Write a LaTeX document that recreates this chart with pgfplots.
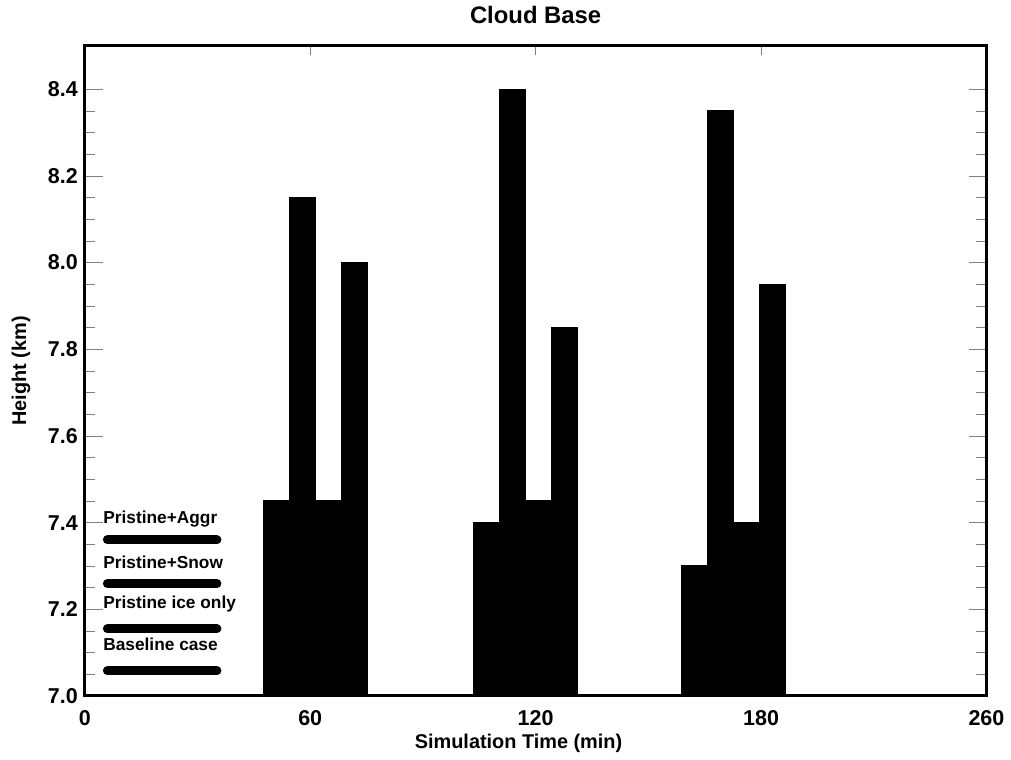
\documentclass[border=0pt]{standalone}
\usepackage{pgfplots}
\pgfplotsset{compat=1.18}
\usepackage{fontspec}
\setmainfont{Liberation Sans}

% Cloud base height per case (km); x = bar centre
\pgfplotstableread{
x     y
55.25 7.45
115.75 7.40
175.75 7.30
}\baseline
\pgfplotstableread{
x     y
62.75 8.15
123.25 8.40
183.25 8.35
}\iceonly
\pgfplotstableread{
x     y
70.25 7.45
130.75 7.45
190.75 7.40
}\snow
\pgfplotstableread{
x     y
77.75 8.00
138.25 7.85
198.25 7.95
}\aggr

\begin{document}
\begin{tikzpicture}
\begin{axis}[
  scale only axis,
  width=451.75bp, height=325.75bp,
  xmin=0, xmax=260, ymin=7, ymax=8.5,
  line width=1.5bp,
  tick align=inside,
  xtick={0,65,130,195,260},
  xticklabels={0,60,120,180,260},
  xtick style={/pgfplots/major tick length=4.5bp},
  ytick={7.0,7.2,7.4,7.6,7.8,8.0,8.2,8.4},
  yticklabels={7.0,7.2,7.4,7.6,7.8,8.0,8.2,8.4},
  minor y tick num=3,
  major tick length=9bp,
  minor tick length=5bp,
  /pgf/number format/assume math mode=true,
  ticklabel style={font=\bfseries\fontsize{10.8}{12}\selectfont},
  xticklabel style={yshift=-3bp},
  yticklabel style={xshift=0.5bp},
  title={Cloud Base},
  title style={font=\bfseries\fontsize{12}{14}\selectfont, at={(0.5,1)}, anchor=base, yshift=5bp},
  xlabel={Simulation Time (min)},
  xlabel style={font=\bfseries\fontsize{10}{11}\selectfont, at={(0.481,0)}, anchor=base, yshift=-26.5bp},
  ylabel={Height (km)},
  ylabel style={font=\bfseries\fontsize{10}{11}\selectfont, at={(axis description cs:-0.0708,0.5)}, anchor=center},
  clip=true,
]
\addplot[ybar, bar width=7.5, bar shift=0pt, fill=black, draw=black, line width=0.5bp] table[x=x,y=y] {\baseline};
\addplot[ybar, bar width=7.5, bar shift=0pt, fill=black, draw=black, line width=0.5bp] table[x=x,y=y] {\iceonly};
\addplot[ybar, bar width=7.5, bar shift=0pt, fill=black, draw=black, line width=0.5bp] table[x=x,y=y] {\snow};
\addplot[ybar, bar width=7.5, bar shift=0pt, fill=black, draw=black, line width=0.5bp] table[x=x,y=y] {\aggr};

% key lines
\addplot[sharp plot, black, line width=4.5bp, line cap=round] coordinates {(6.5,7.360) (38.1,7.360)};
\addplot[sharp plot, black, line width=4.5bp, line cap=round] coordinates {(6.5,7.259) (38.1,7.259)};
\addplot[sharp plot, black, line width=4.5bp, line cap=round] coordinates {(6.5,7.155) (38.1,7.155)};
\addplot[sharp plot, black, line width=4.5bp, line cap=round] coordinates {(6.5,7.058) (38.1,7.058)};

\begin{scope}[font=\bfseries\fontsize{8.7}{10}\selectfont]
\node[anchor=base west, inner sep=0pt] at (axis cs:4.9,7.397) {Pristine+Aggr};
\node[anchor=base west, inner sep=0pt] at (axis cs:4.9,7.293) {Pristine+Snow};
\node[anchor=base west, inner sep=0pt] at (axis cs:4.9,7.203) {Pristine ice only};
\node[anchor=base west, inner sep=0pt] at (axis cs:4.9,7.104) {Baseline case};
\end{scope}
\end{axis}
\path (current axis.south west) ++(-42.5bp,-30.5bp) coordinate (bl);
\path (current axis.north east) ++(11.25bp,19.75bp) coordinate (tr);
\path (bl) rectangle (tr);
\end{tikzpicture}
\end{document}
